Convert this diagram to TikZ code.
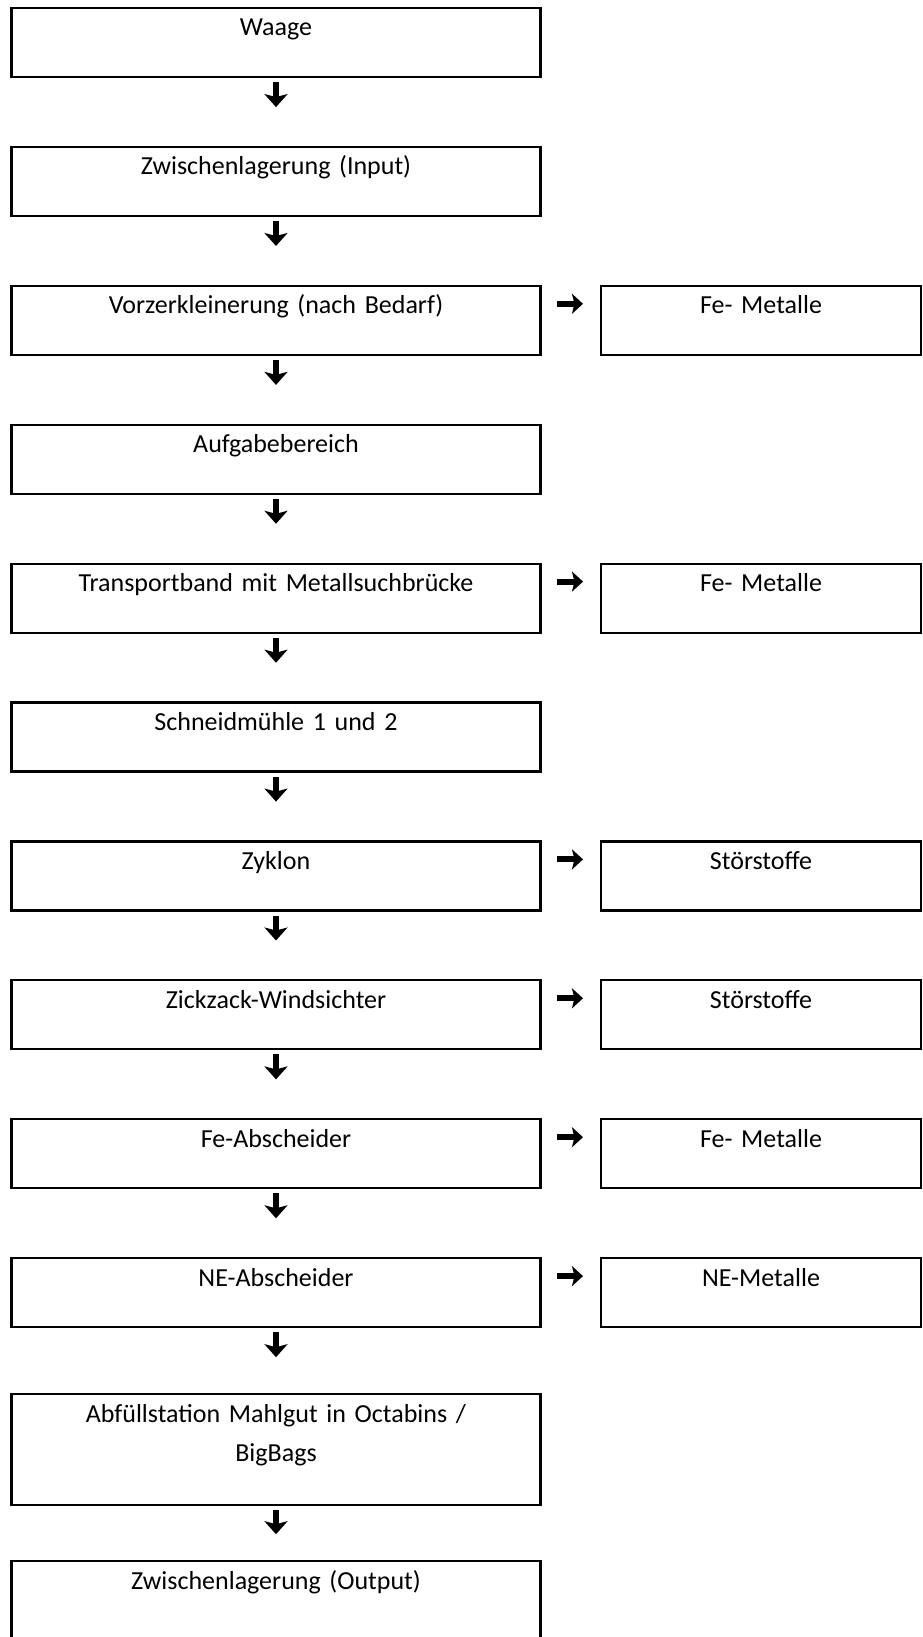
\documentclass[tikz,border=0pt]{standalone}
\usepackage{fontspec}
\setmainfont{Carlito}
\usepackage{tikz}
\usetikzlibrary{positioning,arrows.meta}
\tikzset{
  box/.style  ={draw,line width=1.1pt,inner xsep=0pt,inner ysep=0pt,text width=264.5pt,align=center,text height=14pt,text depth=20.5pt,font=\fontsize{13pt}{19.5pt}\selectfont},
  side/.style ={box,text width=160pt},
  tall/.style ={box,text depth=41.5pt},
  darr/.style ={-{Stealth[length=6.5pt,width=11.5pt,inset=1.5pt]},line width=3pt,shorten <=2pt,shorten >=#1},
  darr/.default=19.35pt,
  rarr/.style ={-{Stealth[length=5.5pt,width=10pt,inset=1.2pt]},line width=3pt,shorten <=7.7pt,shorten >=8.45pt},
}
\begin{document}
\begin{tikzpicture}[node distance=33.85pt and 29.15pt]
  \useasboundingbox (0,0) rectangle (461pt,-818.5pt);
  \node[box,anchor=north] (waage) at (138pt,-3.45pt) {Waage};
  \node[box,below=of waage]    (zwin)     {Zwischenlagerung (Input)};
  \node[box,below=of zwin]     (vorz)     {Vorzerkleinerung (nach Bedarf)};
  \node[box,below=of vorz]     (aufg)     {Aufgabebereich};
  \node[box,below=of aufg]     (transp)   {Transportband mit Metallsuchbrücke};
  \node[box,below=of transp]   (schneid)  {Schneidmühle 1 und 2};
  \node[box,below=of schneid]  (zyklon)   {Zyklon};
  \node[box,below=of zyklon]   (zickzack) {Zickzack-Windsichter};
  \node[box,below=of zickzack] (feab)     {Fe-Abscheider};
  \node[box,below=of feab]     (neab)     {NE-Abscheider};
  \node[tall,below=32.4pt of neab] (abf)  {Abfüllstation Mahlgut in Octabins /\\BigBags};
  \node[tall,below=26.9pt of abf]  (zwout) {Zwischenlagerung (Output)};

  \node[side,right=of vorz]     (fe1)    {Fe- Metalle};
  \node[side,right=of transp]   (fe2)    {Fe- Metalle};
  \node[side,right=of zyklon]   (stoer1) {Störstoffe};
  \node[side,right=of zickzack] (stoer2) {Störstoffe};
  \node[side,right=of feab]     (fe3)    {Fe- Metalle};
  \node[side,right=of neab]     (ne)     {NE-Metalle};

  \draw[darr] (waage) -- (zwin);
  \draw[darr] (zwin) -- (vorz);
  \draw[darr] (vorz) -- (aufg);
  \draw[darr] (aufg) -- (transp);
  \draw[darr] (transp) -- (schneid);
  \draw[darr] (schneid) -- (zyklon);
  \draw[darr] (zyklon) -- (zickzack);
  \draw[darr] (zickzack) -- (feab);
  \draw[darr] (feab) -- (neab);
  \draw[darr=17.9pt] (neab) -- (abf);
  \draw[darr=12.9pt] (abf) -- (zwout);

  \draw[rarr] ([yshift=8.25pt]vorz.east) -- ([yshift=8.25pt]fe1.west);
  \draw[rarr] ([yshift=8.25pt]transp.east) -- ([yshift=8.25pt]fe2.west);
  \draw[rarr] ([yshift=8.25pt]zyklon.east) -- ([yshift=8.25pt]stoer1.west);
  \draw[rarr] ([yshift=8.25pt]zickzack.east) -- ([yshift=8.25pt]stoer2.west);
  \draw[rarr] ([yshift=8.25pt]feab.east) -- ([yshift=8.25pt]fe3.west);
  \draw[rarr] ([yshift=8.25pt]neab.east) -- ([yshift=8.25pt]ne.west);
\end{tikzpicture}
\end{document}
